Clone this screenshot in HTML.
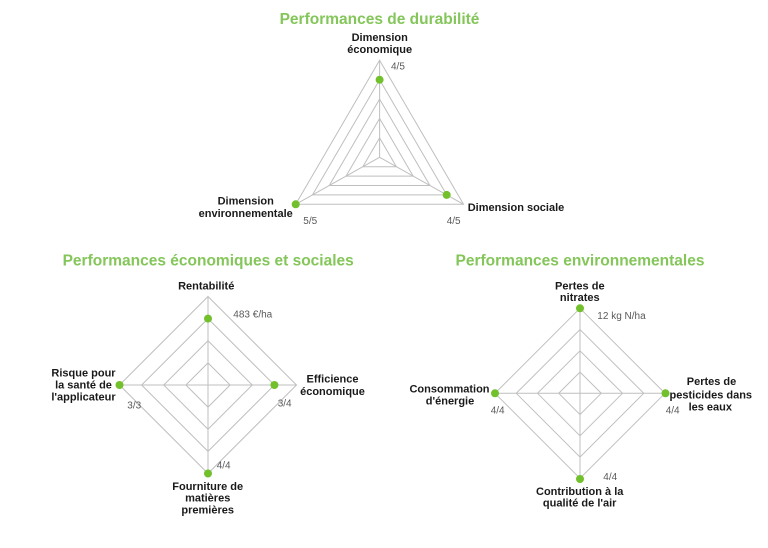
<!DOCTYPE html>
<html>
<head>
<meta charset="utf-8">
<style>
  html,body{margin:0;padding:0;background:#fff;}
  svg{display:block;}
  .t{font-family:"Liberation Sans",Arial,sans-serif;font-weight:bold;font-size:15.5px;fill:#84c65a;text-anchor:middle;}
  .l{font-family:"Liberation Sans",Arial,sans-serif;font-weight:bold;font-size:11px;fill:#1a1a1a;text-anchor:middle;}
  .v{font-family:"Liberation Sans",Arial,sans-serif;font-size:10px;fill:#5a5a5a;}
  .g{fill:none;stroke:#bfbfbf;stroke-width:1;}
  .d{fill:#72c02c;}
</style>
</head>
<body>
<svg width="768" height="548" viewBox="0 0 768 548" xmlns="http://www.w3.org/2000/svg">
  <rect width="768" height="548" fill="#fff"/>

  <!-- Titles -->
  <text class="t" x="379.5" y="24">Performances de durabilité</text>
  <text class="t" x="208.2" y="265.7">Performances économiques et sociales</text>
  <text class="t" x="580" y="265.7">Performances environnementales</text>

  <!-- Triangle chart -->
  <polygon class="g" points="379.6,137.9 396.38,166.7 362.82,166.7"/>
  <polygon class="g" points="379.6,118.5 413.16,176.1 346.04,176.1"/>
  <polygon class="g" points="379.6,99.1 429.94,185.5 329.26,185.5"/>
  <polygon class="g" points="379.6,79.7 446.72,194.9 312.48,194.9"/>
  <polygon class="g" points="379.6,60.3 463.5,204.3 295.7,204.3"/>
  <line class="g" x1="379.6" y1="157.3" x2="379.6" y2="60.3"/>
  <line class="g" x1="379.6" y1="157.3" x2="295.7" y2="204.3"/>
  <line class="g" x1="379.6" y1="157.3" x2="463.5" y2="204.3"/>
  <circle class="d" cx="379.6" cy="79.7" r="4"/>
  <circle class="d" cx="295.7" cy="204.3" r="4"/>
  <circle class="d" cx="446.7" cy="194.9" r="4"/>

  <text class="l" x="379.7" y="41">Dimension</text>
  <text class="l" x="379.7" y="53">économique</text>
  <text class="v" x="391" y="69.5">4/5</text>
  <text class="l" x="245.7" y="204.5">Dimension</text>
  <text class="l" x="245.7" y="217">environnementale</text>
  <text class="v" x="303.3" y="224">5/5</text>
  <text class="v" x="446.7" y="224">4/5</text>
  <text class="l" x="467.7" y="211" style="text-anchor:start">Dimension sociale</text>

  <!-- Left diamond chart -->
  <polygon class="g" points="208,362.875 230.125,385 208,407.125 185.875,385"/>
  <polygon class="g" points="208,340.75 252.25,385 208,429.25 163.75,385"/>
  <polygon class="g" points="208,318.625 274.375,385 208,451.375 141.625,385"/>
  <polygon class="g" points="208,296.5 296.5,385 208,473.5 119.5,385"/>
  <line class="g" x1="208" y1="296.5" x2="208" y2="473.5"/>
  <line class="g" x1="119.5" y1="385" x2="296.5" y2="385"/>
  <circle class="d" cx="208" cy="318.6" r="4"/>
  <circle class="d" cx="274.4" cy="385" r="4"/>
  <circle class="d" cx="119.5" cy="385" r="4"/>
  <circle class="d" cx="208" cy="473.5" r="4"/>

  <text class="l" x="206.2" y="289.3">Rentabilité</text>
  <text class="v" x="233.3" y="317.7">483 €/ha</text>
  <text class="l" x="83.5" y="376.7">Risque pour</text>
  <text class="l" x="83.5" y="388.7">la santé de</text>
  <text class="l" x="83.5" y="400.5">l'applicateur</text>
  <text class="v" x="127.3" y="408.7">3/3</text>
  <text class="l" x="332.5" y="382.3">Efficience</text>
  <text class="l" x="332.5" y="395">économique</text>
  <text class="v" x="277.7" y="406.7">3/4</text>
  <text class="v" x="216.7" y="468.3">4/4</text>
  <text class="l" x="207.7" y="490">Fourniture de</text>
  <text class="l" x="207.7" y="501.7">matières</text>
  <text class="l" x="207.7" y="513.3">premières</text>

  <!-- Right diamond chart -->
  <polygon class="g" points="580,372.05 601.25,393.3 580,414.55 558.75,393.3"/>
  <polygon class="g" points="580,350.8 622.5,393.3 580,435.8 537.5,393.3"/>
  <polygon class="g" points="580,329.55 643.75,393.3 580,457.05 516.25,393.3"/>
  <polygon class="g" points="580,308.3 665,393.3 580,478.3 495,393.3"/>
  <line class="g" x1="580" y1="308.3" x2="580" y2="478.3"/>
  <line class="g" x1="495" y1="393.3" x2="665" y2="393.3"/>
  <circle class="d" cx="580" cy="308.3" r="4"/>
  <circle class="d" cx="665.5" cy="393.3" r="4"/>
  <circle class="d" cx="495" cy="393.3" r="4"/>
  <circle class="d" cx="580" cy="479" r="4"/>

  <text class="l" x="579.8" y="289.3">Pertes de</text>
  <text class="l" x="579.8" y="301">nitrates</text>
  <text class="v" x="597.3" y="319">12 kg N/ha</text>
  <text class="l" x="449.5" y="392.7">Consommation</text>
  <text class="l" x="450" y="404.3">d'énergie</text>
  <text class="v" x="490.7" y="413.3">4/4</text>
  <text class="l" x="711.5" y="385">Pertes de</text>
  <text class="l" x="710.8" y="398.3">pesticides dans</text>
  <text class="l" x="710.3" y="410.7">les eaux</text>
  <text class="v" x="665.7" y="413.3">4/4</text>
  <text class="v" x="603.3" y="480">4/4</text>
  <text class="l" x="579.7" y="495">Contribution à la</text>
  <text class="l" x="579.7" y="506.7">qualité de l'air</text>
</svg>
</body>
</html>
